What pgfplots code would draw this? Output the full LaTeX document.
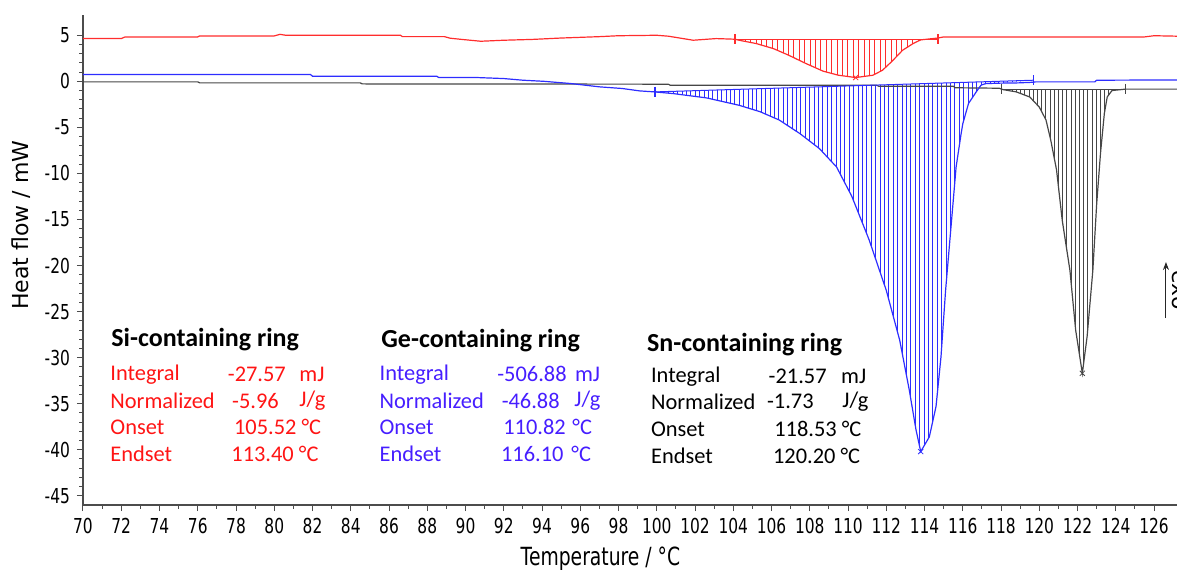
\documentclass[border=0pt]{standalone}
\usepackage{fontspec}
\setmainfont{DejaVu Sans}
\newfontfamily\tickfont{DejaVu Sans}[FakeStretch=0.75]
\newfontfamily\calib{Carlito}
\usepackage{pgfplots}
\pgfplotsset{compat=1.18}
\usetikzlibrary{patterns.meta,arrows.meta}

\definecolor{sired}{RGB}{255,45,45}
\definecolor{geblue}{RGB}{45,45,255}
\definecolor{snblack}{RGB}{70,70,70}
\definecolor{sitext}{RGB}{255,20,20}
\definecolor{getext}{RGB}{70,30,255}

\begin{document}
\begin{tikzpicture}
\begin{axis}[
  scale only axis,
  width=547pt, height=245pt,
  xmin=70, xmax=127.2, ymin=-46, ymax=7.2,
  axis lines=left,
  axis line style={-, draw=black!70, line width=0.7pt},
  xtick={70,72,...,126},
  ytick={-45,-40,...,5},
  minor x tick num=1,
  minor y tick num=4,
  tick align=outside,
  major tick length=3pt,
  minor tick length=1.8pt,
  tick style={black!70, line width=0.5pt},
  tick label style={font=\tickfont\fontsize{10.3}{12}\selectfont},
  /pgf/number format/assume math mode=true,
  xlabel={Temperature / °C},
  ylabel={Heat flow / mW},
  xlabel style={font=\tickfont\fontsize{12.5}{14}\selectfont, at={(ticklabel cs:0.473)}},
  ylabel style={font=\fontsize{11}{13}\selectfont, at={(ticklabel cs:0.571)}},
  clip mode=individual,
]
% hatched peak areas (closed by the integration baseline)
\addplot[draw=none, pattern={Lines[angle=90,distance=2.7pt,line width=0.45pt]}, pattern color=sired]
  coordinates {(104.1,4.57) (104.3,4.46) (105.2,4.1) (106.1,3.55) (106.9,2.83) (107.8,1.93)
  (108.7,1.1) (109.5,0.66) (110.4,0.41) (111.3,0.66) (111.8,1.2) (112.3,2.18) (112.85,3.37)
  (113.4,4.1) (113.8,4.5) (114.7,4.57)} -- cycle;
\addplot[draw=none, pattern={Lines[angle=90,distance=2.2pt,line width=0.45pt]}, pattern color=geblue]
  coordinates {(99.9,-1.15) (100.85,-1.33) (102.6,-1.8) (104.3,-2.6) (105.4,-3.3) (106.4,-4.2)
  (107.5,-5.7) (108.5,-7.3) (109.4,-9.3) (110.2,-12.5) (111.1,-17.2) (112.0,-22.7) (112.7,-28.1)
  (113.2,-33.5) (113.55,-37.8) (113.8,-40.2) (114.25,-38.6) (114.6,-35.3) (114.86,-29.9)
  (115.1,-22.7) (115.4,-15.4) (115.65,-9.3) (115.9,-5.85) (116.0,-4.6) (116.3,-2.4)
  (116.7,-1.15) (116.95,-0.42) (117.2,-0.25) (117.9,-0.2) (119.7,0.12)} -- cycle;
\addplot[draw=none, pattern={Lines[angle=90,distance=2.1pt,line width=0.45pt]}, pattern color=snblack]
  coordinates {(118.03,-0.85) (118.8,-1.15) (119.5,-1.7) (120.0,-2.8) (120.35,-4.2) (120.6,-6.4)
  (120.9,-9.6) (121.2,-15.1) (121.6,-20.5) (121.9,-27.0) (122.25,-31.7) (122.5,-27.7)
  (122.8,-20.5) (123.0,-13.3) (123.2,-7.8) (123.4,-3.5) (123.55,-1.7) (123.8,-1.0) (124.5,-0.85)} -- cycle;

% Sn-containing ring
\addplot[snblack, line width=0.6pt] coordinates {
  (70,-0.06) (76,-0.06) (76.1,-0.17) (84.5,-0.17) (84.6,-0.28) (100.6,-0.31) (100.7,-0.42)
  (111.5,-0.42) (111.6,-0.53) (115.5,-0.53) (115.6,-0.7) (117.9,-0.75) (118.1,-0.9)
  (118.8,-1.15) (119.5,-1.7) (120.0,-2.8) (120.35,-4.2) (120.6,-6.4) (120.9,-9.6) (121.2,-15.1)
  (121.6,-20.5) (121.9,-27.0) (122.25,-31.7) (122.5,-27.7) (122.8,-20.5) (123.0,-13.3)
  (123.2,-7.8) (123.4,-3.5) (123.55,-1.7) (123.8,-1.0) (124.5,-0.85) (127.2,-0.85)};
% Ge-containing ring
\addplot[geblue, line width=0.6pt] coordinates {
  (70,0.73) (81.9,0.73) (82.0,0.55) (88.5,0.55) (88.6,0.41) (90.6,0.41) (92,0.3) (93,0.12)
  (94.1,0.0) (95.5,-0.24) (97,-0.6) (98.2,-0.78) (99.1,-1.04) (99.9,-1.15) (100.85,-1.33)
  (102.6,-1.8) (104.3,-2.6) (105.4,-3.3) (106.4,-4.2) (107.5,-5.7) (108.5,-7.3) (109.4,-9.3)
  (110.2,-12.5) (111.1,-17.2) (112.0,-22.7) (112.7,-28.1) (113.2,-33.5) (113.55,-37.8)
  (113.8,-40.2) (114.25,-38.6) (114.6,-35.3) (114.86,-29.9) (115.1,-22.7) (115.4,-15.4)
  (115.65,-9.3) (115.9,-5.85) (116.0,-4.6) (116.3,-2.4) (116.7,-1.15) (116.95,-0.42)
  (117.2,-0.25) (117.9,-0.2) (118.9,-0.17) (119.7,-0.1) (119.8,-0.06) (122.9,-0.06)
  (123.0,0.12) (127.2,0.15)};
% Si-containing ring
\addplot[sired, line width=0.6pt] coordinates {
  (70,4.64) (72,4.64) (72.2,4.82) (76,4.82) (76.1,4.93) (80,4.93) (80.3,5.1) (80.6,5.0)
  (86.6,5.0) (86.7,4.85) (88.9,4.85) (89.2,4.68) (89.8,4.55) (90.8,4.35) (92,4.46) (93.5,4.55)
  (95,4.7) (97,4.85) (98,4.95) (100,5.0) (100.6,4.9) (101.2,4.7) (101.9,4.46) (103.1,4.64)
  (104.1,4.57) (104.3,4.46) (105.2,4.1) (106.1,3.55) (106.9,2.83) (107.8,1.93) (108.7,1.1)
  (109.5,0.66) (110.4,0.41) (111.3,0.66) (111.8,1.2) (112.3,2.18) (112.85,3.37) (113.4,4.1)
  (113.8,4.5) (114.7,4.7) (115,4.82) (125.5,4.82) (126,4.95) (127.2,4.9)};

% integration baselines
\addplot[sired, line width=0.5pt] coordinates {(104.1,4.57) (114.7,4.57)};
\addplot[geblue, line width=0.5pt] coordinates {(99.9,-1.15) (119.7,0.12)};
\addplot[snblack, line width=0.5pt] coordinates {(118.03,-0.85) (124.5,-0.85)};

% integration limits
\addplot[only marks, mark=|, mark size=2.6pt, sired, mark options={line width=0.8pt}]
  coordinates {(104.1,4.57) (114.7,4.57)};
\addplot[only marks, mark=|, mark size=2.6pt, geblue, mark options={line width=0.8pt}]
  coordinates {(99.9,-1.15) (119.7,0.12)};
\addplot[only marks, mark=|, mark size=2.6pt, snblack, mark options={line width=0.8pt}]
  coordinates {(118.03,-0.85) (124.5,-0.85)};

% peak minima
\addplot[only marks, mark=x, mark size=1.8pt, sired] coordinates {(110.4,0.41)};
\addplot[only marks, mark=x, mark size=1.8pt, geblue] coordinates {(113.8,-40.2)};
\addplot[only marks, mark=x, mark size=1.8pt, snblack] coordinates {(122.25,-31.7)};

% result boxes
\begin{scope}[every node/.style={anchor=west, inner sep=0pt, font=\calib\fontsize{11.2}{13}\selectfont}]
\node[font=\calib\bfseries\fontsize{13}{15}\selectfont] at (rel axis cs:0.0256,0.3367) {Si-containing ring};
\node[text=sitext] at (rel axis cs:0.0247,0.2667) {Integral};
\node[text=sitext] at (rel axis cs:0.0247,0.2129) {Normalized};
\node[text=sitext] at (rel axis cs:0.0247,0.1586) {Onset};
\node[text=sitext] at (rel axis cs:0.0247,0.1035) {Endset};
\node[text=sitext] at (rel axis cs:0.1321,0.2667) {-27.57};
\node[text=sitext] at (rel axis cs:0.1974,0.2667) {mJ};
\node[text=sitext] at (rel axis cs:0.1360,0.2129) {-5.96};
\node[text=sitext] at (rel axis cs:0.1974,0.2129) {J/g};
\node[text=sitext] at (rel axis cs:0.1377,0.1586) {105.52 °C};
\node[text=sitext] at (rel axis cs:0.1353,0.1035) {113.40 °C};

\node[font=\calib\bfseries\fontsize{13}{15}\selectfont] at (rel axis cs:0.2724,0.3347) {Ge-containing ring};
\node[text=getext] at (rel axis cs:0.2708,0.2667) {Integral};
\node[text=getext] at (rel axis cs:0.2708,0.2129) {Normalized};
\node[text=getext] at (rel axis cs:0.2708,0.1586) {Onset};
\node[text=getext] at (rel axis cs:0.2708,0.1035) {Endset};
\node[text=getext] at (rel axis cs:0.3784,0.2667) {-506.88};
\node[text=getext] at (rel axis cs:0.4494,0.2667) {mJ};
\node[text=getext] at (rel axis cs:0.3824,0.2129) {-46.88};
\node[text=getext] at (rel axis cs:0.4488,0.2129) {J/g};
\node[text=getext] at (rel axis cs:0.3839,0.1586) {110.82};
\node[text=getext] at (rel axis cs:0.4470,0.1586) {°C};
\node[text=getext] at (rel axis cs:0.3818,0.1035) {116.10};
\node[text=getext] at (rel axis cs:0.4461,0.1035) {°C};

\node[font=\calib\bfseries\fontsize{13}{15}\selectfont] at (rel axis cs:0.5153,0.3265) {Sn-containing ring};
\node at (rel axis cs:0.5189,0.2618) {Integral};
\node at (rel axis cs:0.5189,0.2108) {Normalized};
\node at (rel axis cs:0.5189,0.1551) {Onset};
\node at (rel axis cs:0.5189,0.1006) {Endset};
\node at (rel axis cs:0.6264,0.2618) {-21.57};
\node at (rel axis cs:0.6926,0.2618) {mJ};
\node at (rel axis cs:0.6249,0.2108) {-1.73};
\node at (rel axis cs:0.6938,0.2108) {J/g};
\node at (rel axis cs:0.6316,0.1551) {118.53 °C};
\node at (rel axis cs:0.6304,0.1006) {120.20 °C};
\end{scope}

% exo direction
\draw[-{Stealth[length=4pt,width=3pt]}, black!85, line width=0.5pt]
  (rel axis cs:0.9899,0.3816) -- (rel axis cs:0.9899,0.4959);
\node[overlay, rotate=-90, anchor=south, inner sep=1pt, font=\fontsize{11}{13}\selectfont]
  at (rel axis cs:0.9935,0.4388) {exo};

\coordinate (bl) at (rel axis cs:0,0);
\coordinate (tr) at (rel axis cs:1,1);
\end{axis}
\pgfresetboundingbox
\path[use as bounding box] ([xshift=-41.5pt,yshift=-32pt]bl) rectangle ([yshift=7.5pt]tr);
\end{tikzpicture}
\end{document}
